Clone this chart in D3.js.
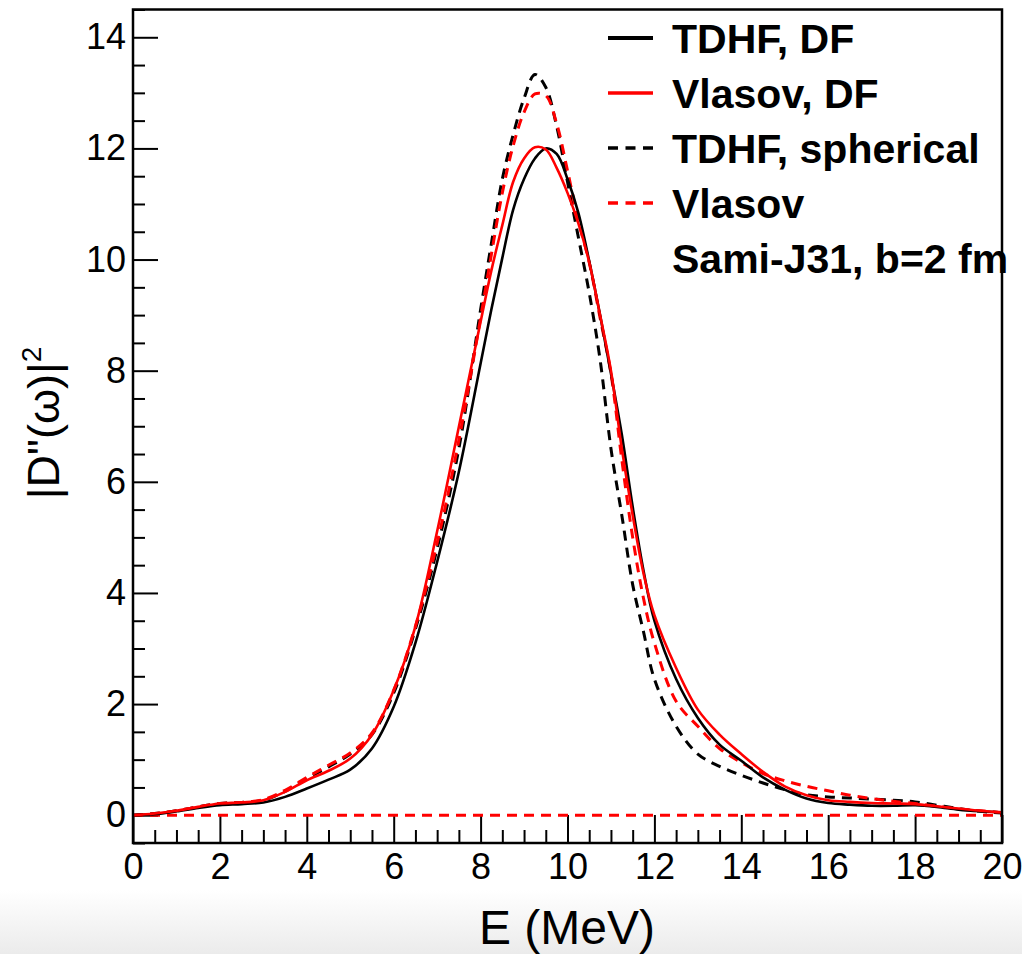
<!DOCTYPE html>
<html>
<head>
<meta charset="utf-8">
<script src="https://cdn.jsdelivr.net/npm/d3@7"></script>
<style>
	body { margin:0; background:#fff; }
	svg text { font-family:"Liberation Sans", Arial, Helvetica, sans-serif; fill:#000; }
</style>
</head>
<body>
<div class="visualisation"></div>
<script>
//----------------------------------------------------------------------------------------------------------------------------
//DATA
//----------------------------------------------------------------------------------------------------------------------------
var energy = [0,0.5,1,1.5,2,2.5,3,3.5,4,4.5,5,5.5,6,6.5,7,7.5,8,8.25,8.5,8.75,9,9.25,9.5,9.75,10,10.25,10.5,10.75,11,11.25,11.5,11.75,12,12.5,13,13.5,14,14.5,15,15.5,16,16.5,17,17.5,18,18.5,19,19.5,20];

var tdhfDF      = [0,0.02,0.07,0.13,0.18,0.2,0.23,0.33,0.48,0.64,0.82,1.2,1.95,3.1,4.56,6.18,8.13,9.11,10.03,10.9,11.45,11.82,12.0,11.9,11.45,10.84,9.97,9.0,7.95,6.85,5.55,4.4,3.5,2.45,1.75,1.27,0.98,0.68,0.46,0.3,0.22,0.19,0.17,0.17,0.18,0.15,0.1,0.07,0.05];
var vlasovDF    = [0,0.03,0.08,0.15,0.21,0.23,0.27,0.42,0.63,0.8,1.02,1.45,2.25,3.4,5.11,6.99,8.88,9.81,10.62,11.4,11.82,12.02,11.98,11.65,11.2,10.65,9.95,9.0,8.0,6.6,5.4,4.35,3.6,2.65,1.9,1.45,1.1,0.78,0.52,0.36,0.27,0.24,0.22,0.21,0.2,0.16,0.12,0.08,0.05];
var tdhfSph     = [0,0.03,0.08,0.15,0.21,0.23,0.27,0.43,0.66,0.87,1.1,1.45,2.2,3.35,4.8,6.6,9.1,10.3,11.45,12.25,12.9,13.33,13.1,12.4,11.4,10.4,9.4,8.2,6.6,5.4,4.15,3.3,2.45,1.6,1.1,0.88,0.72,0.58,0.46,0.37,0.33,0.31,0.29,0.27,0.24,0.18,0.12,0.07,0.04];
var vlasovSph   = [0,0.03,0.08,0.15,0.21,0.23,0.28,0.45,0.68,0.9,1.12,1.48,2.25,3.4,4.9,6.75,8.95,10.1,11.2,12.05,12.65,12.98,12.95,12.45,11.6,10.7,9.95,8.95,7.95,6.4,5.0,3.9,3.1,2.05,1.6,1.2,0.95,0.75,0.62,0.52,0.44,0.36,0.3,0.25,0.21,0.16,0.11,0.08,0.05];

var xTicks = [0,2,4,6,8,10,12,14,16,18,20];
var yTicks = [0,2,4,6,8,10,12,14];

var legendLabels = ["TDHF, DF", "Vlasov, DF", "TDHF, spherical", "Vlasov"];
var legendNote   = "Sami-J31, b=2 fm";

//----------------------------------------------------------------------------------------------------------------------------
//CANVAS
//----------------------------------------------------------------------------------------------------------------------------
var W = 1022, H = 954;
var dim = {left:133, right:1002, top:9.5, bottom:843};

var svg = d3.select(".visualisation").append("svg")
	.attr("width", W)
	.attr("height", H);

//light grey band at the bottom of the picture
var defs = svg.append("defs");
var grad = defs.append("linearGradient").attr("id", "band").attr("x1",0).attr("y1",0).attr("x2",0).attr("y2",1);
grad.append("stop").attr("offset", "0%").attr("stop-color", "#ffffff");
grad.append("stop").attr("offset", "100%").attr("stop-color", "#ebebeb");
svg.append("rect").attr("x",0).attr("y",890).attr("width",W).attr("height",H-890).attr("fill","url(#band)");

defs.append("clipPath").attr("id", "plotclip")
	.append("rect")
	.attr("x", dim.left).attr("y", dim.top)
	.attr("width", dim.right - dim.left).attr("height", dim.bottom - dim.top);

//----------------------------------------------------------------------------------------------------------------------------
//SCALES + AXES
//----------------------------------------------------------------------------------------------------------------------------
var x = d3.scaleLinear().domain([0,20]).range([dim.left, dim.right]);
var y = d3.scaleLinear().domain([-0.5,14.5]).range([dim.bottom, dim.top]);

var minorX = d3.range(0, 20.01, 0.5).filter(function(v){ return v % 2 !== 0; });
var minorY = d3.range(-0.5, 14.51, 0.5).filter(function(v){ return v % 2 !== 0; });

svg.append("g")
	.attr("class", "x-minor")
	.attr("transform", "translate(0," + dim.bottom + ")")
	.call(d3.axisBottom(x).tickValues(minorX).tickSizeInner(-13).tickSizeOuter(0).tickFormat(""));

svg.append("g")
	.attr("class", "x-axis")
	.attr("transform", "translate(0," + dim.bottom + ")")
	.call(d3.axisBottom(x).tickValues(xTicks).tickSizeInner(-28).tickSizeOuter(0).tickPadding(10));

svg.append("g")
	.attr("class", "y-minor")
	.attr("transform", "translate(" + dim.left + ",0)")
	.call(d3.axisLeft(y).tickValues(minorY).tickSizeInner(-12).tickSizeOuter(0).tickFormat(""));

svg.append("g")
	.attr("class", "y-axis")
	.attr("transform", "translate(" + dim.left + ",0)")
	.call(d3.axisLeft(y).tickValues(yTicks).tickSizeInner(-25).tickSizeOuter(0).tickPadding(7));

svg.selectAll(".x-axis path, .y-axis path, .x-minor path, .y-minor path").remove();
svg.selectAll(".tick line").attr("stroke", "#000").attr("stroke-width", 2);
svg.selectAll(".x-axis text, .y-axis text")
	.attr("font-size", 36)
	.attr("font-family", "'Liberation Sans', Arial, Helvetica, sans-serif");

//axis titles
svg.append("text")
	.attr("x", 567).attr("y", 944)
	.attr("text-anchor", "middle")
	.attr("font-size", 48)
	.text("E (MeV)");

var ytitle = svg.append("text")
	.attr("transform", "translate(59,423) rotate(-90)")
	.attr("text-anchor", "middle")
	.attr("font-size", 45);
ytitle.append("tspan").text("|D\"(\u03c9)|");
ytitle.append("tspan").attr("font-size", 28).attr("dy", -18).text("2");

//----------------------------------------------------------------------------------------------------------------------------
//CURVES
//----------------------------------------------------------------------------------------------------------------------------
var series = [
	{name: legendLabels[0], values: tdhfDF,    color: "#000000", dash: null,   width: 2.6},
	{name: legendLabels[1], values: vlasovDF,  color: "#ff0000", dash: null,   width: 2.6},
	{name: legendLabels[2], values: tdhfSph,   color: "#000000", dash: "10,7", width: 3},
	{name: legendLabels[3], values: vlasovSph, color: "#ff0000", dash: "10,7", width: 3}
];

var line = d3.line()
	.x(function(d){ return x(d[0]); })
	.y(function(d){ return y(d[1]); })
	.curve(d3.curveCatmullRom.alpha(0.5));

var plot = svg.append("g").attr("clip-path", "url(#plotclip)");

//zero line
plot.append("path")
	.datum([[0,0],[20,0]])
	.attr("d", line)
	.attr("fill", "none")
	.attr("stroke", "#ff0000")
	.attr("stroke-width", 3)
	.attr("stroke-dasharray", "10,7");

// draw order: dashed first, solid on top
[2,3,0,1].forEach(function(i){
	var s = series[i];
	plot.append("path")
		.datum(energy.map(function(e, j){ return [e, s.values[j]]; }))
		.attr("d", line)
		.attr("fill", "none")
		.attr("stroke", s.color)
		.attr("stroke-width", s.width)
		.attr("stroke-dasharray", s.dash);
});

//frame
svg.append("rect")
	.attr("x", dim.left).attr("y", dim.top)
	.attr("width", dim.right - dim.left).attr("height", dim.bottom - dim.top)
	.attr("fill", "none")
	.attr("stroke", "#000")
	.attr("stroke-width", 2.5);

//----------------------------------------------------------------------------------------------------------------------------
//LEGEND
//----------------------------------------------------------------------------------------------------------------------------
var legend = svg.append("g").attr("class", "legend");
var rowY = d3.scaleLinear().domain([0,1]).range([53, 108]);

series.forEach(function(s, i){
	var by = rowY(i);
	legend.append("line")
		.attr("x1", 608).attr("x2", 653)
		.attr("y1", by - 15).attr("y2", by - 15)
		.attr("stroke", s.color)
		.attr("stroke-width", i === 0 ? 4 : 3.5)
		.attr("stroke-dasharray", s.dash ? "10,7.5" : null);
	legend.append("text")
		.attr("x", 672).attr("y", by)
		.attr("font-size", 41)
		.attr("font-weight", "bold")
		.text(s.name);
});

legend.append("text")
	.attr("x", 672).attr("y", rowY(4))
	.attr("font-size", 41)
	.attr("font-weight", "bold")
	.text(legendNote);
</script>
</body>
</html>
